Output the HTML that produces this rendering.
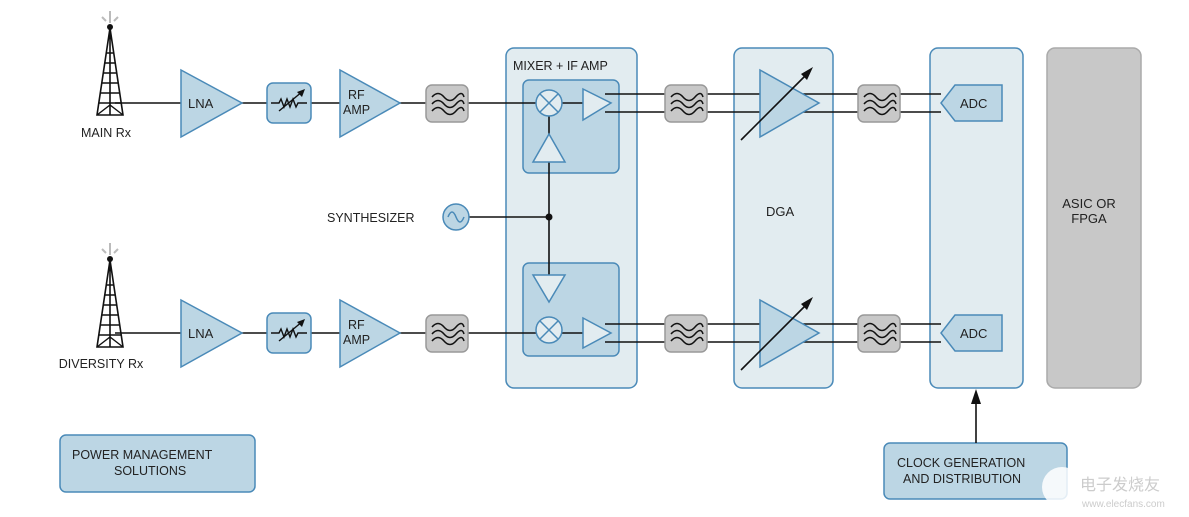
<!DOCTYPE html>
<html><head><meta charset="utf-8"><style>
html,body{margin:0;padding:0;background:#fff;}
svg{display:block;font-family:"Liberation Sans",sans-serif;}
</style></head><body>
<svg width="1189" height="517" viewBox="0 0 1189 517" xmlns="http://www.w3.org/2000/svg">
<defs>
<g id="tower">
  <path d="M110,-75 L97,12 L123,12 Z M110,-75 L110,12" fill="none" stroke="#111" stroke-width="1.6"/>
  <path d="M106,-50 L114,-50 M105,-40 L115,-40 M103,-30 L117,-30 M102,-20 L118,-20 M101,-10 L119,-10 M99,0 L121,0 M97,12 L110,2 L123,12" stroke="#111" stroke-width="1.4" fill="none"/>
  <circle cx="110" cy="-76" r="3" fill="#111"/>
  <path d="M110,-80 L110,-92 M102,-86 L106,-82 M118,-86 L114,-82" stroke="#bbb" stroke-width="2"/>
</g>
<g id="filt">
  <rect x="0" y="0" width="42" height="37" rx="6" fill="#c8c8c8" stroke="#999" stroke-width="1.5"/>
  <path d="M6,12 q6,-7 12,0 t12,0 t8,0 M6,19 q6,-7 12,0 t12,0 t8,0 M6,26 q6,-7 12,0 t12,0 t8,0" fill="none" stroke="#111" stroke-width="1.5"/>
</g>
<g id="atten">
  <rect x="0" y="0" width="44" height="40" rx="6" fill="#bcd6e4" stroke="#4a8ab8" stroke-width="1.5"/>
  <path d="M4,20 L12,20 l2,-4 l3,8 l3,-8 l3,8 l3,-8 l3,8 l2,-4 L40,20" fill="none" stroke="#111" stroke-width="1.4"/>
  <path d="M12,28 L36,8" stroke="#111" stroke-width="1.4"/>
  <path d="M38,6 L30,9 L35,14 Z" fill="#111"/>
</g>
<g id="mix">
  <circle cx="0" cy="0" r="13" fill="#e2ecf0" stroke="#4a8ab8" stroke-width="1.5"/>
  <path d="M-9,-9 L9,9 M9,-9 L-9,9" stroke="#4a8ab8" stroke-width="1.5"/>
</g>
</defs>

<!-- big containers -->
<rect x="506" y="48" width="131" height="340" rx="8" fill="#e2ecf0" stroke="#4a8ab8" stroke-width="1.5"/>
<rect x="734" y="48" width="99" height="340" rx="8" fill="#e2ecf0" stroke="#4a8ab8" stroke-width="1.5"/>
<rect x="930" y="48" width="93" height="340" rx="8" fill="#e2ecf0" stroke="#4a8ab8" stroke-width="1.5"/>
<rect x="1047" y="48" width="94" height="340" rx="8" fill="#c8c8c8" stroke="#aaa" stroke-width="1.5"/>
<rect x="523" y="80" width="96" height="93" rx="6" fill="#bcd6e4" stroke="#4a8ab8" stroke-width="1.5"/>
<rect x="523" y="263" width="96" height="93" rx="6" fill="#bcd6e4" stroke="#4a8ab8" stroke-width="1.5"/>

<text x="513" y="70" font-size="12.5" fill="#222">MIXER + IF AMP</text>
<text x="766" y="216" font-size="13" fill="#222">DGA</text>
<text x="1089" y="208" font-size="13" fill="#222" text-anchor="middle">ASIC OR</text>
<text x="1089" y="223" font-size="13" fill="#222" text-anchor="middle">FPGA</text>

<!-- signal lines -->
<g stroke="#111" stroke-width="1.6" fill="none">
  <path d="M115,103 L536,103 M562,103 L583,103"/>
  <path d="M115,333 L536,333 M562,333 L583,333"/>
  <path d="M605,94 L941,94 M605,112 L941,112"/>
  <path d="M605,324 L941,324 M605,342 L941,342"/>
  <path d="M549,116 L549,302 M469,217 L549,217"/>
</g>
<circle cx="549" cy="217" r="3.5" fill="#111"/>

<!-- towers -->
<use href="#tower" x="0" y="103"/>
<use href="#tower" x="0" y="335"/>
<text x="106" y="137" font-size="12.5" fill="#222" text-anchor="middle">MAIN Rx</text>
<text x="101" y="368" font-size="12.5" fill="#222" text-anchor="middle">DIVERSITY Rx</text>

<!-- rows -->
<g id="row1">
  <path d="M181,70 L242,103 L181,137 Z" fill="#bcd6e4" stroke="#4a8ab8" stroke-width="1.5"/>
  <text x="188" y="108" font-size="13" fill="#222">LNA</text>
  <use href="#atten" x="267" y="83"/>
  <path d="M340,70 L400,103 L340,137 Z" fill="#bcd6e4" stroke="#4a8ab8" stroke-width="1.5"/>
  <text x="348" y="99" font-size="12.5" fill="#222">RF</text>
  <text x="343" y="114" font-size="12.5" fill="#222">AMP</text>
  <use href="#filt" x="426" y="85"/>
</g>
<g transform="translate(0,230)">
  <path d="M181,70 L242,103 L181,137 Z" fill="#bcd6e4" stroke="#4a8ab8" stroke-width="1.5"/>
  <text x="188" y="108" font-size="13" fill="#222">LNA</text>
  <use href="#atten" x="267" y="83"/>
  <path d="M340,70 L400,103 L340,137 Z" fill="#bcd6e4" stroke="#4a8ab8" stroke-width="1.5"/>
  <text x="348" y="99" font-size="12.5" fill="#222">RF</text>
  <text x="343" y="114" font-size="12.5" fill="#222">AMP</text>
  <use href="#filt" x="426" y="85"/>
</g>

<!-- mixers -->
<use href="#mix" x="549" y="103"/>
<use href="#mix" x="549" y="330"/>
<path d="M583,89 L611,103 L583,120 Z" fill="#e2ecf0" stroke="#4a8ab8" stroke-width="1.5"/>
<path d="M583,318 L611,333 L583,348 Z" fill="#e2ecf0" stroke="#4a8ab8" stroke-width="1.5"/>
<path d="M549,134 L565,162 L533,162 Z" fill="#e2ecf0" stroke="#4a8ab8" stroke-width="1.5"/>
<path d="M533,275 L565,275 L549,302 Z" fill="#e2ecf0" stroke="#4a8ab8" stroke-width="1.5"/>

<!-- synth -->
<circle cx="456" cy="217" r="13" fill="#bcd6e4" stroke="#4a8ab8" stroke-width="1.5"/>
<path d="M448,217 q4,-10 8,0 t8,0" fill="none" stroke="#4a8ab8" stroke-width="1.5"/>
<text x="327" y="222" font-size="12.5" fill="#222">SYNTHESIZER</text>

<!-- filters -->
<use href="#filt" x="665" y="85"/>
<use href="#filt" x="858" y="85"/>
<use href="#filt" x="665" y="315"/>
<use href="#filt" x="858" y="315"/>

<!-- DGA -->
<path d="M760,70 L819,103 L760,137 Z" fill="#bcd6e4" stroke="#4a8ab8" stroke-width="1.5"/>
<path d="M741,140 L806,75" stroke="#111" stroke-width="1.6"/>
<path d="M813,67 L801,74 L807,80 Z" fill="#111"/>
<path d="M760,300 L819,333 L760,367 Z" fill="#bcd6e4" stroke="#4a8ab8" stroke-width="1.5"/>
<path d="M741,370 L806,305" stroke="#111" stroke-width="1.6"/>
<path d="M813,297 L801,304 L807,310 Z" fill="#111"/>

<!-- ADC -->
<path d="M955,85 L1002,85 L1002,121 L955,121 L941,103 Z" fill="#bcd6e4" stroke="#4a8ab8" stroke-width="1.5"/>
<text x="960" y="108" font-size="13" fill="#222">ADC</text>
<path d="M955,315 L1002,315 L1002,351 L955,351 L941,333 Z" fill="#bcd6e4" stroke="#4a8ab8" stroke-width="1.5"/>
<text x="960" y="338" font-size="13" fill="#222">ADC</text>

<!-- bottom boxes -->
<rect x="60" y="435" width="195" height="57" rx="6" fill="#bcd6e4" stroke="#4a8ab8" stroke-width="1.5"/>
<text x="72" y="459" font-size="12.5" fill="#222">POWER MANAGEMENT</text>
<text x="114" y="475" font-size="12.5" fill="#222">SOLUTIONS</text>
<rect x="884" y="443" width="183" height="56" rx="6" fill="#bcd6e4" stroke="#4a8ab8" stroke-width="1.5"/>
<text x="897" y="467" font-size="12.5" fill="#222">CLOCK GENERATION</text>
<text x="903" y="483" font-size="12.5" fill="#222">AND DISTRIBUTION</text>
<path d="M976,443 L976,400" stroke="#111" stroke-width="1.6"/>
<path d="M976,389 L971,404 L981,404 Z" fill="#111"/>

<!-- watermark -->
<circle cx="1062" cy="487" r="20" fill="#fff" opacity="0.85"/>
<text x="1080" y="490" font-size="16" fill="#ccc" font-family="'Noto Sans CJK SC',sans-serif">电子发烧友</text>
<text x="1082" y="507" font-size="10" fill="#ccc">www.elecfans.com</text>
</svg>
</body></html>
